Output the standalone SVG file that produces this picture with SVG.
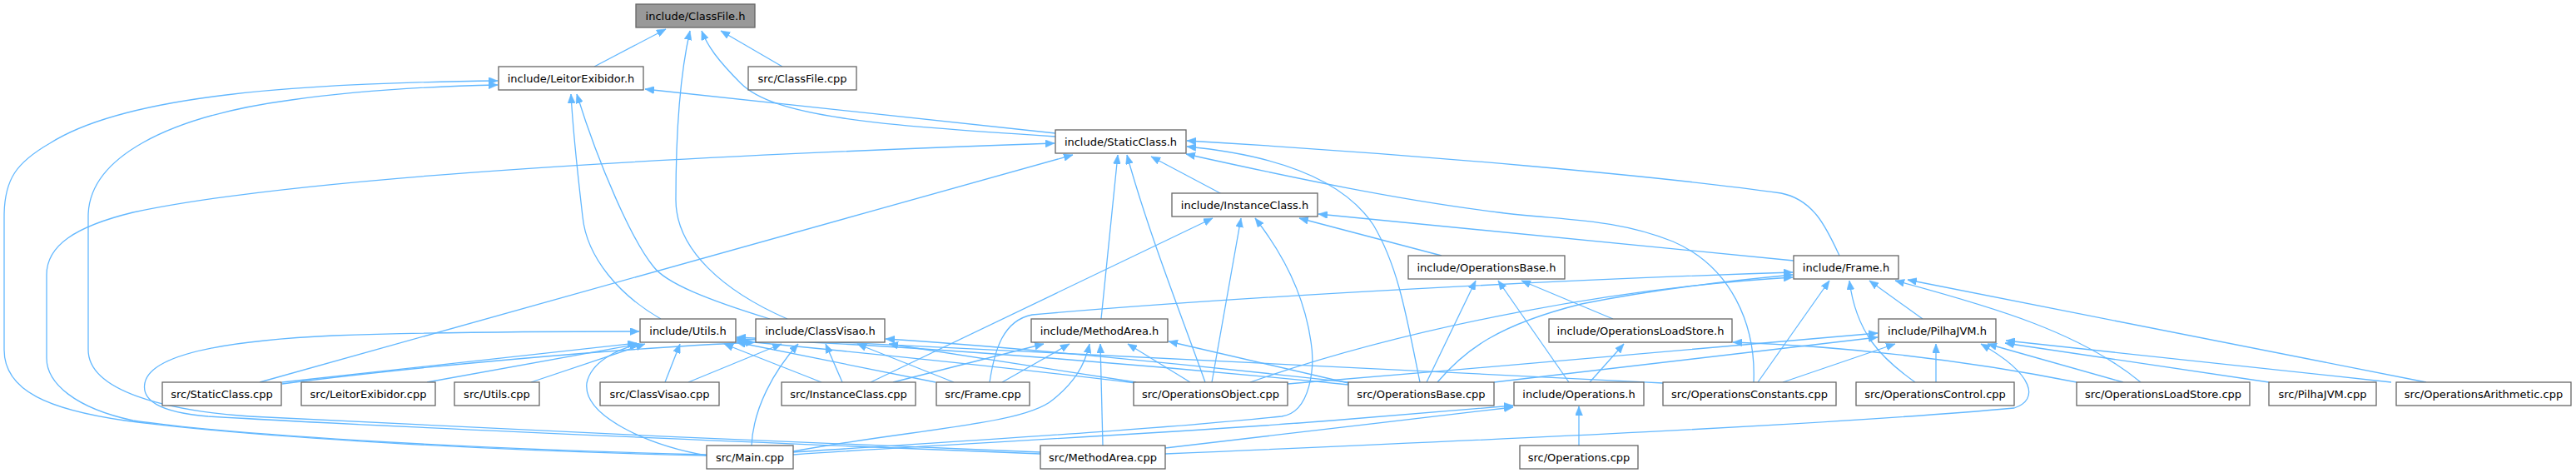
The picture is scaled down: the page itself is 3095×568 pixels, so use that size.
<svg xmlns="http://www.w3.org/2000/svg" width="3095" height="568" viewBox="0 0 3095 568">
<style>
.node rect{fill:#ffffff;stroke:#666666;stroke-width:1.3}
.node.root rect{fill:#999999}
.node text{font-family:"DejaVu Sans","Liberation Sans",sans-serif;font-size:13px;fill:#000000;text-anchor:middle}
.edges path{fill:none;stroke:#63b8ff;stroke-width:1.3}
</style>
<defs>
<marker id="ah" markerUnits="userSpaceOnUse" markerWidth="12" markerHeight="9" refX="11" refY="4.5" orient="auto">
<path d="M0,0 L11,4.5 L0,9 Z" fill="#63b8ff" stroke="#63b8ff" stroke-width="0.5"/>
</marker>
</defs>
<rect width="3095" height="568" fill="#ffffff"/>
<g class="edges" marker-end="url(#ah)">
<path d="M714,80 L800,35"/>
<path d="M946,383 C870,350 812,300 812,240 C812,150 818,85 829,37"/>
<path d="M1268,164 C1050,150 930,140 890,100 C862,72 850,55 843,37"/>
<path d="M940,80 L866,37"/>
<path d="M1268,160 L775,107"/>
<path d="M794,383 C745,355 705,310 700,260 C693,200 688,150 686,113"/>
<path d="M925,383 C850,360 800,340 785,320 C760,290 720,200 693,113"/>
<path d="M849,547 C600,542 300,525 150,505 C60,492 5,470 5,420 L5,260 C5,215 20,195 60,172 C150,115 350,100 598,97"/>
<path d="M1250,543 C1000,533 500,512 300,500 C200,493 106,470 106,420 L106,260 C106,190 200,140 350,120 C450,106 550,103 598,102"/>
<path d="M849,546 C600,540 300,525 160,505 C90,490 56,460 56,430 L56,330 C56,295 90,272 160,255 C300,225 600,195 1267,172"/>
<path d="M1250,545 C1000,535 500,515 250,500 C190,495 170,480 174,460 C180,430 250,410 400,403 C550,398 700,398 768,398"/>
<path d="M312,459 L1289,186"/>
<path d="M1323,383 L1343,186"/>
<path d="M1448,459 C1420,380 1380,280 1354,186"/>
<path d="M1468,233 L1383,188"/>
<path d="M2107,459 C2110,390 2080,320 2010,290 C1940,262 1880,265 1800,255 C1680,240 1560,215 1425,185"/>
<path d="M2210,307 C2195,275 2180,240 2140,232 C2000,212 1700,185 1426,169"/>
<path d="M1706,459 C1690,380 1680,320 1650,270 C1610,210 1520,185 1426,176"/>
<path d="M1046,459 L1457,262"/>
<path d="M1456,459 L1491,262"/>
<path d="M953,543 C1150,530 1400,515 1540,500 C1575,495 1580,440 1575,410 C1565,340 1530,290 1508,262"/>
<path d="M1732,307 L1561,262"/>
<path d="M2155,313 L1584,257"/>
<path d="M1714,459 L1773,337"/>
<path d="M1885,459 L1800,337"/>
<path d="M1938,383 L1828,337"/>
<path d="M1189,459 C1195,420 1205,385 1240,378 C1500,355 1900,335 2154,327"/>
<path d="M1727,459 C1760,420 1800,390 1900,365 C2000,345 2100,335 2154,330"/>
<path d="M1502,459 C1700,390 1950,345 2154,333"/>
<path d="M2112,459 L2198,337"/>
<path d="M2301,459 C2260,430 2230,400 2222,337"/>
<path d="M2310,383 L2246,337"/>
<path d="M2572,459 C2500,400 2400,370 2277,337"/>
<path d="M2915,459 L2292,336"/>
<path d="M2142,459 L2277,413"/>
<path d="M2326,459 L2326,413"/>
<path d="M1400,545 C1800,528 2200,510 2420,490 C2450,480 2445,450 2380,413"/>
<path d="M2551,459 L2388,413"/>
<path d="M2726,459 L2409,412"/>
<path d="M2873,459 L2410,409"/>
<path d="M1795,459 L2256,405"/>
<path d="M1547,461 C1800,440 2100,415 2256,400"/>
<path d="M1897,535 L1897,488"/>
<path d="M953,546 C1150,532 1400,521 1600,505 L1818,487"/>
<path d="M1400,538 L1818,489"/>
<path d="M1910,459 L1951,413"/>
<path d="M2495,459 C2350,430 2200,415 2082,411"/>
<path d="M1073,459 L1254,413"/>
<path d="M1204,459 L1285,413"/>
<path d="M953,542 C1100,515 1230,510 1265,480 C1290,460 1303,440 1309,413"/>
<path d="M1325,535 L1322,413"/>
<path d="M1430,459 L1355,413"/>
<path d="M1620,460 L1404,410"/>
<path d="M339,459 L765,412"/>
<path d="M339,461 C500,440 750,418 907,411"/>
<path d="M513,459 L767,413"/>
<path d="M638,459 L775,413"/>
<path d="M799,459 L817,413"/>
<path d="M987,459 L870,413"/>
<path d="M849,547 C780,535 700,500 705,460 C710,435 740,420 768,413"/>
<path d="M1124,459 L885,411"/>
<path d="M1365,460 C1200,440 1000,420 885,409"/>
<path d="M1620,462 C1400,440 1100,415 885,407"/>
<path d="M1998,460 C1600,440 1200,420 885,405"/>
<path d="M827,459 L939,413"/>
<path d="M903,535 C905,490 930,445 959,413"/>
<path d="M1012,459 L992,413"/>
<path d="M1146,459 L1030,413"/>
<path d="M1365,459 L1068,413"/>
<path d="M1620,459 C1450,440 1200,415 1064,407"/>
</g>
<g id="n_ClassFile_h" class="node root"><rect x="764" y="5" width="143" height="28"/><text x="835.5" y="23.5">include/ClassFile.h</text></g>
<g id="n_LeitorExibidor_h" class="node"><rect x="599" y="80" width="174" height="28"/><text x="686" y="98.5">include/LeitorExibidor.h</text></g>
<g id="n_ClassFile_cpp" class="node"><rect x="899" y="80" width="130" height="28"/><text x="964" y="98.5">src/ClassFile.cpp</text></g>
<g id="n_StaticClass_h" class="node"><rect x="1268" y="156" width="157" height="28"/><text x="1346.5" y="174.5">include/StaticClass.h</text></g>
<g id="n_InstanceClass_h" class="node"><rect x="1408" y="232" width="175" height="28"/><text x="1495.5" y="250.5">include/InstanceClass.h</text></g>
<g id="n_OperationsBase_h" class="node"><rect x="1692" y="307" width="188" height="28"/><text x="1786" y="325.5">include/OperationsBase.h</text></g>
<g id="n_Frame_h" class="node"><rect x="2155" y="307" width="126" height="28"/><text x="2218" y="325.5">include/Frame.h</text></g>
<g id="n_Utils_h" class="node"><rect x="769" y="383" width="115" height="28"/><text x="826.5" y="401.5">include/Utils.h</text></g>
<g id="n_ClassVisao_h" class="node"><rect x="908" y="383" width="155" height="28"/><text x="985.5" y="401.5">include/ClassVisao.h</text></g>
<g id="n_MethodArea_h" class="node"><rect x="1239" y="383" width="164" height="28"/><text x="1321" y="401.5">include/MethodArea.h</text></g>
<g id="n_OperationsLoadStore_h" class="node"><rect x="1861" y="383" width="220" height="28"/><text x="1971" y="401.5">include/OperationsLoadStore.h</text></g>
<g id="n_PilhaJVM_h" class="node"><rect x="2257" y="383" width="141" height="28"/><text x="2327.5" y="401.5">include/PilhaJVM.h</text></g>
<g id="n_StaticClass_cpp" class="node"><rect x="195" y="459" width="143" height="28"/><text x="266.5" y="477.5">src/StaticClass.cpp</text></g>
<g id="n_LeitorExibidor_cpp" class="node"><rect x="362" y="459" width="161" height="28"/><text x="442.5" y="477.5">src/LeitorExibidor.cpp</text></g>
<g id="n_Utils_cpp" class="node"><rect x="546" y="459" width="102" height="28"/><text x="597" y="477.5">src/Utils.cpp</text></g>
<g id="n_ClassVisao_cpp" class="node"><rect x="721" y="459" width="143" height="28"/><text x="792.5" y="477.5">src/ClassVisao.cpp</text></g>
<g id="n_InstanceClass_cpp" class="node"><rect x="939" y="459" width="161" height="28"/><text x="1019.5" y="477.5">src/InstanceClass.cpp</text></g>
<g id="n_Frame_cpp" class="node"><rect x="1125" y="459" width="112" height="28"/><text x="1181" y="477.5">src/Frame.cpp</text></g>
<g id="n_OperationsObject_cpp" class="node"><rect x="1362" y="459" width="185" height="28"/><text x="1454.5" y="477.5">src/OperationsObject.cpp</text></g>
<g id="n_OperationsBase_cpp" class="node"><rect x="1620" y="459" width="175" height="28"/><text x="1707.5" y="477.5">src/OperationsBase.cpp</text></g>
<g id="n_Operations_h" class="node"><rect x="1819" y="459" width="156" height="28"/><text x="1897" y="477.5">include/Operations.h</text></g>
<g id="n_OperationsConstants_cpp" class="node"><rect x="1998" y="459" width="208" height="28"/><text x="2102" y="477.5">src/OperationsConstants.cpp</text></g>
<g id="n_OperationsControl_cpp" class="node"><rect x="2230" y="459" width="190" height="28"/><text x="2325" y="477.5">src/OperationsControl.cpp</text></g>
<g id="n_OperationsLoadStore_cpp" class="node"><rect x="2495" y="459" width="208" height="28"/><text x="2599" y="477.5">src/OperationsLoadStore.cpp</text></g>
<g id="n_PilhaJVM_cpp" class="node"><rect x="2726" y="459" width="129" height="28"/><text x="2790.5" y="477.5">src/PilhaJVM.cpp</text></g>
<g id="n_OperationsArithmetic_cpp" class="node"><rect x="2879" y="459" width="210" height="28"/><text x="2984" y="477.5">src/OperationsArithmetic.cpp</text></g>
<g id="n_Main_cpp" class="node"><rect x="849" y="535" width="104" height="28"/><text x="901" y="553.5">src/Main.cpp</text></g>
<g id="n_MethodArea_cpp" class="node"><rect x="1250" y="535" width="150" height="28"/><text x="1325" y="553.5">src/MethodArea.cpp</text></g>
<g id="n_Operations_cpp" class="node"><rect x="1826" y="535" width="142" height="28"/><text x="1897" y="553.5">src/Operations.cpp</text></g>
</svg>
